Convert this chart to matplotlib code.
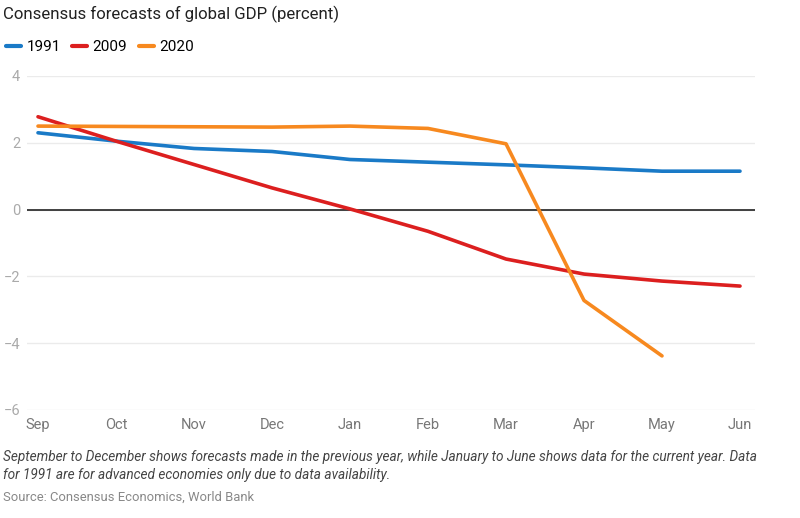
import matplotlib
matplotlib.use("Agg")
import matplotlib.pyplot as plt

months = ["Sep", "Oct", "Nov", "Dec", "Jan", "Feb", "Mar", "Apr", "May", "Jun"]
s1991 = [2.3, 2.05, 1.83, 1.74, 1.5, 1.42, 1.34, 1.25, 1.15, 1.15]
s2009 = [2.78, 2.05, 1.35, 0.65, 0.02, -0.65, -1.48, -1.93, -2.14, -2.29]
s2020 = [2.5, 2.49, 2.48, 2.47, 2.5, 2.43, 1.97, -2.72, -4.38]
series_names = ["1991", "2009", "2020"]
colors = ["#1a7ac7", "#dc1f1f", "#f7891f"]
yticks = [-6, -4, -2, 0, 2, 4]

plt.rcParams['font.family'] = ['Roboto', 'DejaVu Sans']

fig = plt.figure(figsize=(8, 5.18), dpi=100)
ax = fig.add_axes([27/800, 1-410/518, (755-27)/800, (410-76)/518])

x = list(range(len(months)))
for name, vals, c in zip(series_names, [s1991, s2009, s2020], colors):
    ax.plot(x[:len(vals)], vals, color=c, lw=2.6, label=name, solid_capstyle='round', zorder=3)

ax.axhline(0, color='#222222', lw=1.2, zorder=2)
ax.set_ylim(-6, 4)
ax.set_xlim(-11/78, 9 + 15/78)
ax.set_yticks(yticks)
ax.set_yticklabels([str(t).replace('-', '\u2212') for t in yticks])
ax.set_xticks(x)
ax.set_xticklabels(months)
ax.grid(axis='y', color='#ebebeb', lw=1, zorder=0)
ax.tick_params(axis='both', length=0, colors='#999999', labelsize=10.5)
ax.tick_params(axis='x', pad=6, labelcolor='#777777')
ax.tick_params(axis='y', pad=5, labelcolor='#aaaaaa')
for s in ax.spines.values():
    s.set_visible(False)
for lab in ax.get_yticklabels():
    lab.set_horizontalalignment('right')

fig.text(3/800, 1-14/518, "Consensus forecasts of global GDP (percent)", fontsize=12.1,
         color='#222222', va='center', ha='left')

leg = fig.legend(loc='center left', bbox_to_anchor=(-8/800, 1-47/518), ncol=3, frameon=False,
                 fontsize=11, handlelength=1.0, handletextpad=0.35, columnspacing=0.75)
for l in leg.get_lines():
    l.set_linewidth(3)

fig.text(3/800, 1-457/518,
         "September to December shows forecasts made in the previous year, while January to June shows data for the current year. Data",
         fontsize=9.85, style='italic', color='#444444', va='center', ha='left')
fig.text(3/800, 1-475/518,
         "for 1991 are for advanced economies only due to data availability.",
         fontsize=9.85, style='italic', color='#444444', va='center', ha='left')
fig.text(3/800, 1-497/518, "Source: Consensus Economics, World Bank",
         fontsize=9.4, color='#888888', va='center', ha='left')

fig.savefig("out.png", dpi=100)
